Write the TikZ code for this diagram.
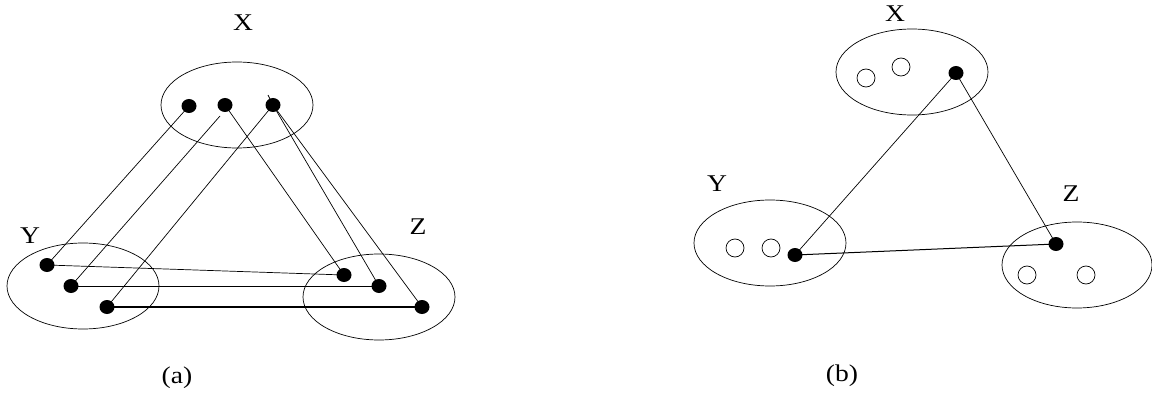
\documentclass[tikz,border=0pt]{standalone}
\usepackage{fontspec}
\setmainfont{Liberation Serif}
\usetikzlibrary{shapes.geometric}
\newcommand{\lbltext}[1]{\scalebox{1.15}[1]{\fontsize{24}{24}\selectfont #1}}
\begin{document}
\begin{tikzpicture}[x=1pt,y=-1pt,
  grp/.style={draw,ellipse,line width=0.7pt,minimum width=152pt,minimum height=86pt,inner sep=0pt},
  dot/.style={ellipse,fill=black,inner sep=0pt,minimum width=15pt,minimum height=14pt},
  hole/.style={draw,circle,line width=0.7pt,inner sep=0pt,minimum size=18pt},
  lbl/.style={inner sep=0pt},
  link/.style={line width=0.7pt},
  thick link/.style={line width=1.4pt}]
\useasboundingbox (0,0) rectangle (1152,393);
% ---------- panel (a) ----------
\node[grp] (ex) at (237,105) {};
\node[grp] (ey) at (83,286) {};
\node[grp] (ez) at (379,297) {};
\node[lbl] (lx) at (243,23) {\lbltext{X}};
\node[lbl] (ly) at (30,236) {\lbltext{Y}};
\node[lbl] (lz) at (418,227) {\lbltext{Z}};
\node[lbl] (la) at (177,378) {\lbltext{(a)}};
\node[dot] (x1) at (189,106) {};
\node[dot] (x2) at (225,105) {};
\node[dot] (x3) at (273,105) {};
\node[dot] (y1) at (47,265) {};
\node[dot] (y2) at (71,286) {};
\node[dot] (y3) at (107,307) {};
\node[dot] (z1) at (344,275) {};
\node[dot] (z2) at (379,286) {};
\node[dot] (z3) at (422,307) {};
\coordinate (x2b) at (220,116);
\coordinate (tk) at (268,95);
\draw[link] (x1.center) -- (y1.center);
\draw[link] (x2b) -- (y2.center);
\draw[link] (x3.center) -- (y3.center);
\draw[link] (x2.center) -- (z1.center);
\draw[link] (x3.center) -- (z2.center);
\draw[link] (x3.center) -- (z3.center);
\draw[link] (tk) -- (x3.center);
\draw[link] (y1.center) -- (z1.center);
\draw[link] (y2.center) -- (z2.center);
\draw[thick link] (y3.center) -- (z3.center);
% ---------- panel (b) ----------
\node[grp] (bx) at (912,72) {};
\node[grp] (by) at (770,243) {};
\node[grp,minimum width=150pt] (bz) at (1077,265) {};
\node[lbl] (blx) at (895,14) {\lbltext{X}};
\node[lbl] (bly) at (717,184) {\lbltext{Y}};
\node[lbl] (blz) at (1071,194) {\lbltext{Z}};
\node[lbl] (lb) at (842,376) {\lbltext{(b)}};
\node[hole] (hx1) at (866,78) {};
\node[hole] (hx2) at (901,67) {};
\node[dot] (dx) at (956,73) {};
\node[hole] (hy1) at (735,248) {};
\node[hole] (hy2) at (771,248) {};
\node[dot] (dy) at (795,255) {};
\node[hole] (hz1) at (1027,275) {};
\node[hole] (hz2) at (1086,275) {};
\node[dot] (dz) at (1056,244) {};
\draw[link] (dx.center) -- (dy.center);
\draw[link] (dx.center) -- (dz.center);
\draw[link,line width=1pt] (dy.center) -- (dz.center);
\end{tikzpicture}
\end{document}
